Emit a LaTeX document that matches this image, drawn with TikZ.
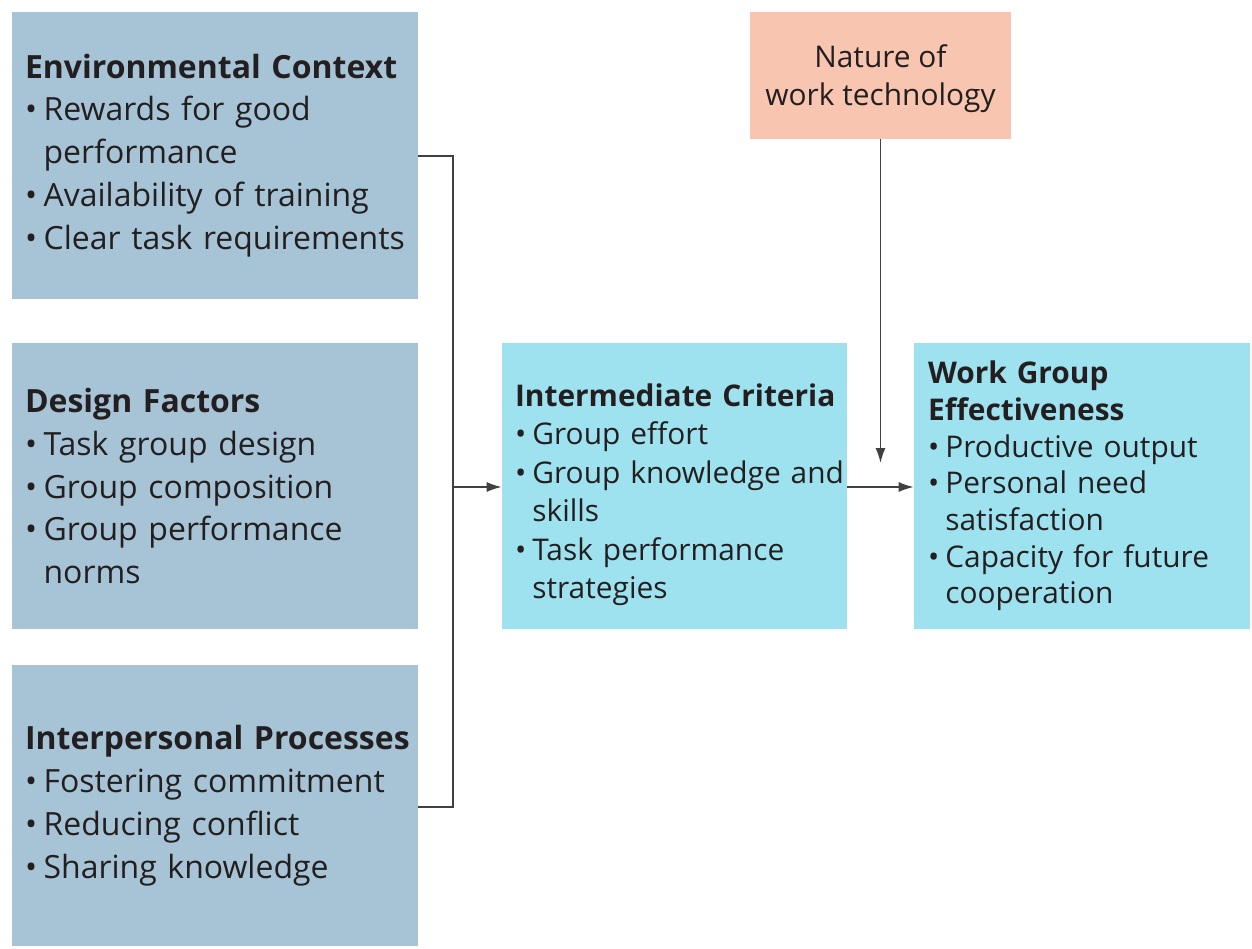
\documentclass[tikz,border=0pt]{standalone}
\usepackage{fontspec}
\setmainfont{Open Sans}
\usetikzlibrary{arrows.meta, positioning}
\definecolor{inBlue}{HTML}{A7C4D7}
\definecolor{midCyan}{HTML}{9FE2EF}
\definecolor{techPeach}{HTML}{F8C6B0}
\definecolor{txtDark}{HTML}{231F20}
\newcommand{\itm}[1]{\par\hangindent=0.58em\hangafter=1\noindent\makebox[0.58em][l]{•}#1\par}
\newcommand{\head}[1]{\noindent\mbox{\textbf{#1}}\par}

\begin{document}
\begin{tikzpicture}[x=0.02cm, y=-0.02cm,
    factor/.style={rectangle, fill=inBlue, minimum width=8.12cm, minimum height=5.74cm,
                   text width=7.6cm, align=left, inner xsep=0.26cm, inner ysep=0pt,
                   font=\fontsize{18.2}{24.4}\selectfont\color{txtDark}},
    crit/.style={factor, fill=midCyan, minimum width=6.9cm, minimum height=5.72cm,
                 text width=6.38cm, font=\fontsize{17}{21.9}\selectfont\color{txtDark}},
    tech/.style={rectangle, fill=techPeach, minimum width=5.22cm, minimum height=2.54cm,
                 align=center, inner sep=0pt,
                 font=\fontsize{17}{21.6}\selectfont\color{txtDark}},
    link/.style={draw=black!75, line width=0.9pt},
    flow/.style={link, -{Latex[length=3mm, width=2mm]}},
  ]
    \useasboundingbox (0,0) rectangle (1252,948);

    \node[factor] (env) at (215,155.5) {\head{Environmental Context}
      \itm{Rewards for good\newline performance}
      \itm{Availability of training}
      \itm{Clear task requirements}};
    \node[factor] (design) at (215,486) {\head{Design Factors}
      \itm{Task group design}
      \itm{Group composition}
      \itm{Group performance\newline norms}};
    \node[factor, minimum height=5.62cm] (interp) at (215,805.5) {\head{Interpersonal Processes}
      \itm{Fostering commitment}
      \itm{Reducing conflict}
      \itm{Sharing knowledge}};

    \node[crit] (mid) at (674.5,486) {\head{\rule{0pt}{0.8cm}Intermediate Criteria}
      \itm{Group effort}
      \itm{\mbox{Group knowledge and}\newline skills}
      \itm{Task performance\newline strategies}};
    \node[crit, minimum width=6.72cm, text width=6.16cm,
          font=\fontsize{17}{20.9}\selectfont\color{txtDark}] (wge) at (1082,486) {\head{Work Group}\head{Effectiveness}
      \itm{Productive output}
      \itm{Personal need\newline satisfaction}
      \itm{Capacity for future\newline cooperation}};

    \node[tech] (work) at (880.5,75.5) {\rule{0pt}{0.6cm}Nature of\\work technology};

    % collect the three factors
    \coordinate (bus) at (453,487);
    \draw[link] (env.east |- 0,156) -| (bus) |- (interp.east |- 0,807);
    \draw[flow] (bus) -- (bus -| mid.west);
    \draw[flow] (mid.east |- 0,487) -- (wge.west |- 0,487);
    \draw[flow] (work.south) -- (work.south |- 0,463);
  \end{tikzpicture}
\end{document}
